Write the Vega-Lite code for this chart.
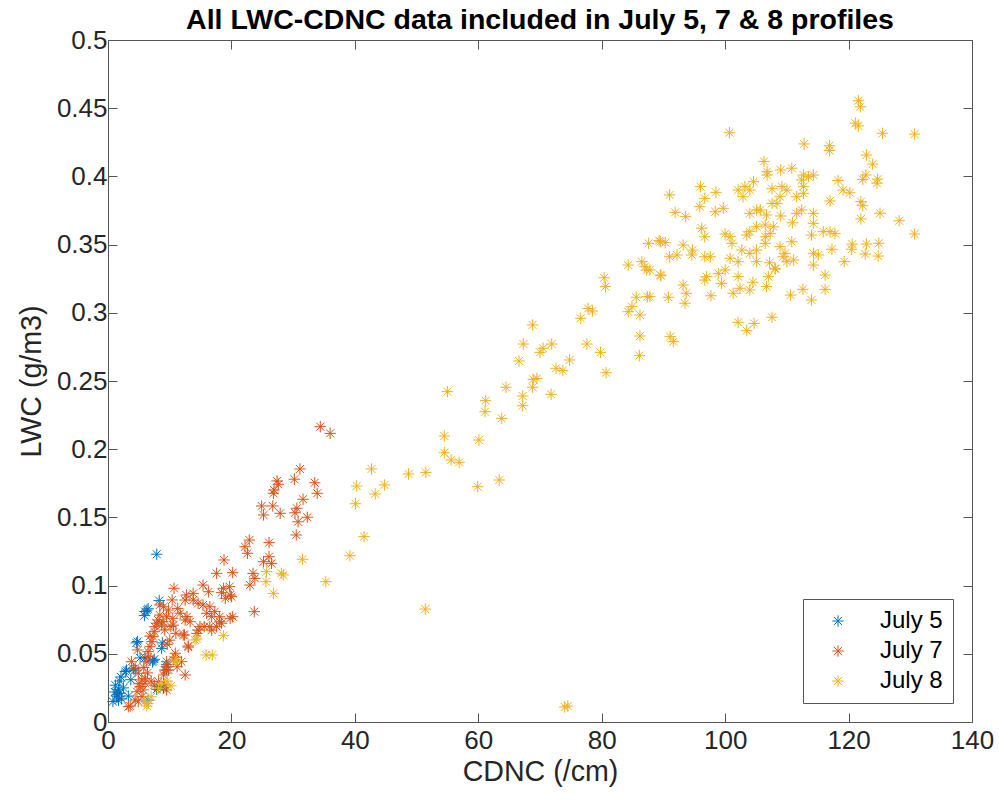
{
  "$schema": "https://vega.github.io/schema/vega-lite/v6.json",
  "autosize": {"type": "none"},
  "padding": {"left": 108, "top": 40, "right": 27, "bottom": 81},
  "width": 864,
  "height": 682,
  "background": "white",
  "title": {"text": "All LWC-CDNC data included in July 5, 7 & 8 profiles", "font": "Liberation Sans", "fontSize": 28.5, "fontWeight": "bold", "color": "black", "anchor": "middle", "offset": -7},
  "config": {
    "view": {"stroke": null},
    "font": "Liberation Sans",
    "axis": {"grid": false, "labelFlush": false, "domainColor": "#555555", "tickColor": "#555555", "tickSize": -9, "labelFont": "Liberation Sans", "labelFontSize": 26, "labelColor": "#262626", "titleFont": "Liberation Sans", "titleFontSize": 28.6, "titleFontWeight": "normal", "titleColor": "#262626"}
  },
  "datasets": {
    "pts": [
      {"date": "July 5", "CDNC": 7.9, "LWC": 0.123},
      {"date": "July 5", "CDNC": 8.3, "LWC": 0.089},
      {"date": "July 5", "CDNC": 6.0, "LWC": 0.081},
      {"date": "July 5", "CDNC": 5.9, "LWC": 0.078},
      {"date": "July 5", "CDNC": 6.5, "LWC": 0.083},
      {"date": "July 5", "CDNC": 6.3, "LWC": 0.082},
      {"date": "July 5", "CDNC": 8.8, "LWC": 0.058},
      {"date": "July 5", "CDNC": 8.7, "LWC": 0.054},
      {"date": "July 5", "CDNC": 4.8, "LWC": 0.059},
      {"date": "July 5", "CDNC": 7.5, "LWC": 0.046},
      {"date": "July 5", "CDNC": 6.0, "LWC": 0.047},
      {"date": "July 5", "CDNC": 9.5, "LWC": 0.042},
      {"date": "July 5", "CDNC": 9.5, "LWC": 0.038},
      {"date": "July 5", "CDNC": 3.0, "LWC": 0.038},
      {"date": "July 5", "CDNC": 4.4, "LWC": 0.038},
      {"date": "July 5", "CDNC": 2.1, "LWC": 0.033},
      {"date": "July 5", "CDNC": 1.9, "LWC": 0.030},
      {"date": "July 5", "CDNC": 1.7, "LWC": 0.024},
      {"date": "July 5", "CDNC": 1.9, "LWC": 0.021},
      {"date": "July 5", "CDNC": 1.4, "LWC": 0.019},
      {"date": "July 5", "CDNC": 1.1, "LWC": 0.022},
      {"date": "July 5", "CDNC": 2.2, "LWC": 0.017},
      {"date": "July 5", "CDNC": 3.3, "LWC": 0.019},
      {"date": "July 5", "CDNC": 1.7, "LWC": 0.016},
      {"date": "July 5", "CDNC": 8.2, "LWC": 0.026},
      {"date": "July 5", "CDNC": 9.0, "LWC": 0.025},
      {"date": "July 5", "CDNC": 7.9, "LWC": 0.024},
      {"date": "July 5", "CDNC": 6.5, "LWC": 0.016},
      {"date": "July 5", "CDNC": 1.5, "LWC": 0.020},
      {"date": "July 5", "CDNC": 2.8, "LWC": 0.037},
      {"date": "July 5", "CDNC": 4.1, "LWC": 0.039},
      {"date": "July 5", "CDNC": 4.6, "LWC": 0.058},
      {"date": "July 5", "CDNC": 7.3, "LWC": 0.045},
      {"date": "July 5", "CDNC": 1.2, "LWC": 0.027},
      {"date": "July 5", "CDNC": 2.5, "LWC": 0.025},
      {"date": "July 5", "CDNC": 0.8, "LWC": 0.015},
      {"date": "July 5", "CDNC": 3.7, "LWC": 0.031},
      {"date": "July 5", "CDNC": 5.2, "LWC": 0.047},
      {"date": "July 5", "CDNC": 7.2, "LWC": 0.044},
      {"date": "July 7", "CDNC": 34.4, "LWC": 0.2165},
      {"date": "July 7", "CDNC": 36.0, "LWC": 0.2116},
      {"date": "July 7", "CDNC": 31.1, "LWC": 0.1855},
      {"date": "July 7", "CDNC": 30.2, "LWC": 0.178},
      {"date": "July 7", "CDNC": 27.4, "LWC": 0.1767},
      {"date": "July 7", "CDNC": 27.6, "LWC": 0.1743},
      {"date": "July 7", "CDNC": 26.9, "LWC": 0.1701},
      {"date": "July 7", "CDNC": 26.8, "LWC": 0.1677},
      {"date": "July 7", "CDNC": 33.5, "LWC": 0.1754},
      {"date": "July 7", "CDNC": 33.9, "LWC": 0.1677},
      {"date": "July 7", "CDNC": 31.6, "LWC": 0.1633},
      {"date": "July 7", "CDNC": 24.9, "LWC": 0.1584},
      {"date": "July 7", "CDNC": 26.7, "LWC": 0.1584},
      {"date": "July 7", "CDNC": 25.2, "LWC": 0.1518},
      {"date": "July 7", "CDNC": 27.9, "LWC": 0.153},
      {"date": "July 7", "CDNC": 30.6, "LWC": 0.1567},
      {"date": "July 7", "CDNC": 30.3, "LWC": 0.1534},
      {"date": "July 7", "CDNC": 30.8, "LWC": 0.1468},
      {"date": "July 7", "CDNC": 32.3, "LWC": 0.1501},
      {"date": "July 7", "CDNC": 30.5, "LWC": 0.1371},
      {"date": "July 7", "CDNC": 22.9, "LWC": 0.1334},
      {"date": "July 7", "CDNC": 22.2, "LWC": 0.1285},
      {"date": "July 7", "CDNC": 22.6, "LWC": 0.1237},
      {"date": "July 7", "CDNC": 26.1, "LWC": 0.1315},
      {"date": "July 7", "CDNC": 26.1, "LWC": 0.1212},
      {"date": "July 7", "CDNC": 25.2, "LWC": 0.1175},
      {"date": "July 7", "CDNC": 26.5, "LWC": 0.1163},
      {"date": "July 7", "CDNC": 23.5, "LWC": 0.109},
      {"date": "July 7", "CDNC": 23.8, "LWC": 0.1053},
      {"date": "July 7", "CDNC": 23.0, "LWC": 0.1004},
      {"date": "July 7", "CDNC": 18.8, "LWC": 0.1188},
      {"date": "July 7", "CDNC": 17.6, "LWC": 0.109},
      {"date": "July 7", "CDNC": 20.2, "LWC": 0.1095},
      {"date": "July 7", "CDNC": 15.4, "LWC": 0.1004},
      {"date": "July 7", "CDNC": 16.3, "LWC": 0.0955},
      {"date": "July 7", "CDNC": 13.8, "LWC": 0.0943},
      {"date": "July 7", "CDNC": 18.7, "LWC": 0.098},
      {"date": "July 7", "CDNC": 19.7, "LWC": 0.0992},
      {"date": "July 7", "CDNC": 18.4, "LWC": 0.0948},
      {"date": "July 7", "CDNC": 19.8, "LWC": 0.0931},
      {"date": "July 7", "CDNC": 19.0, "LWC": 0.0907},
      {"date": "July 7", "CDNC": 20.0, "LWC": 0.0919},
      {"date": "July 7", "CDNC": 10.7, "LWC": 0.098},
      {"date": "July 7", "CDNC": 13.8, "LWC": 0.0894},
      {"date": "July 7", "CDNC": 14.6, "LWC": 0.087},
      {"date": "July 7", "CDNC": 15.4, "LWC": 0.0858},
      {"date": "July 7", "CDNC": 16.5, "LWC": 0.0845},
      {"date": "July 7", "CDNC": 16.0, "LWC": 0.0797},
      {"date": "July 7", "CDNC": 16.8, "LWC": 0.0772},
      {"date": "July 7", "CDNC": 17.3, "LWC": 0.0809},
      {"date": "July 7", "CDNC": 12.8, "LWC": 0.0772},
      {"date": "July 7", "CDNC": 12.5, "LWC": 0.0748},
      {"date": "July 7", "CDNC": 13.3, "LWC": 0.0735},
      {"date": "July 7", "CDNC": 14.9, "LWC": 0.0699},
      {"date": "July 7", "CDNC": 15.6, "LWC": 0.0699},
      {"date": "July 7", "CDNC": 14.6, "LWC": 0.0674},
      {"date": "July 7", "CDNC": 16.8, "LWC": 0.0674},
      {"date": "July 7", "CDNC": 17.6, "LWC": 0.0699},
      {"date": "July 7", "CDNC": 18.4, "LWC": 0.0724},
      {"date": "July 7", "CDNC": 18.1, "LWC": 0.0772},
      {"date": "July 7", "CDNC": 19.8, "LWC": 0.076},
      {"date": "July 7", "CDNC": 20.2, "LWC": 0.0772},
      {"date": "July 7", "CDNC": 23.7, "LWC": 0.0809},
      {"date": "July 7", "CDNC": 12.2, "LWC": 0.0638},
      {"date": "July 7", "CDNC": 14.4, "LWC": 0.065},
      {"date": "July 7", "CDNC": 13.0, "LWC": 0.0557},
      {"date": "July 7", "CDNC": 12.7, "LWC": 0.0931},
      {"date": "July 7", "CDNC": 12.5, "LWC": 0.0894},
      {"date": "July 7", "CDNC": 11.7, "LWC": 0.0797},
      {"date": "July 7", "CDNC": 18.1, "LWC": 0.0735},
      {"date": "July 7", "CDNC": 16.5, "LWC": 0.0699},
      {"date": "July 7", "CDNC": 8.4, "LWC": 0.0784},
      {"date": "July 7", "CDNC": 8.1, "LWC": 0.0748},
      {"date": "July 7", "CDNC": 7.9, "LWC": 0.0724},
      {"date": "July 7", "CDNC": 7.6, "LWC": 0.0699},
      {"date": "July 7", "CDNC": 7.5, "LWC": 0.0662},
      {"date": "July 7", "CDNC": 7.3, "LWC": 0.0626},
      {"date": "July 7", "CDNC": 7.1, "LWC": 0.0589},
      {"date": "July 7", "CDNC": 6.8, "LWC": 0.0552},
      {"date": "July 7", "CDNC": 6.5, "LWC": 0.0516},
      {"date": "July 7", "CDNC": 6.5, "LWC": 0.0479},
      {"date": "July 7", "CDNC": 6.3, "LWC": 0.0442},
      {"date": "July 7", "CDNC": 9.8, "LWC": 0.0821},
      {"date": "July 7", "CDNC": 9.5, "LWC": 0.0772},
      {"date": "July 7", "CDNC": 8.9, "LWC": 0.0735},
      {"date": "July 7", "CDNC": 8.7, "LWC": 0.0711},
      {"date": "July 7", "CDNC": 9.2, "LWC": 0.0675},
      {"date": "July 7", "CDNC": 8.4, "LWC": 0.0858},
      {"date": "July 7", "CDNC": 9.0, "LWC": 0.0845},
      {"date": "July 7", "CDNC": 4.8, "LWC": 0.0528},
      {"date": "July 7", "CDNC": 3.8, "LWC": 0.0442},
      {"date": "July 7", "CDNC": 4.4, "LWC": 0.0394},
      {"date": "July 7", "CDNC": 4.9, "LWC": 0.0357},
      {"date": "July 7", "CDNC": 5.5, "LWC": 0.0308},
      {"date": "July 7", "CDNC": 6.0, "LWC": 0.032},
      {"date": "July 7", "CDNC": 5.2, "LWC": 0.0259},
      {"date": "July 7", "CDNC": 5.7, "LWC": 0.0235},
      {"date": "July 7", "CDNC": 4.7, "LWC": 0.0222},
      {"date": "July 7", "CDNC": 5.5, "LWC": 0.0186},
      {"date": "July 7", "CDNC": 4.4, "LWC": 0.0161},
      {"date": "July 7", "CDNC": 4.9, "LWC": 0.0149},
      {"date": "July 7", "CDNC": 6.0, "LWC": 0.0284},
      {"date": "July 7", "CDNC": 3.3, "LWC": 0.0112},
      {"date": "July 7", "CDNC": 10.9, "LWC": 0.0504},
      {"date": "July 7", "CDNC": 10.6, "LWC": 0.0455},
      {"date": "July 7", "CDNC": 11.9, "LWC": 0.0442},
      {"date": "July 7", "CDNC": 9.5, "LWC": 0.0442},
      {"date": "July 7", "CDNC": 9.2, "LWC": 0.0381},
      {"date": "July 7", "CDNC": 9.0, "LWC": 0.0345},
      {"date": "July 7", "CDNC": 12.5, "LWC": 0.0345},
      {"date": "July 7", "CDNC": 8.2, "LWC": 0.0296},
      {"date": "July 7", "CDNC": 9.2, "LWC": 0.0271},
      {"date": "July 7", "CDNC": 9.5, "LWC": 0.0235},
      {"date": "July 7", "CDNC": 13.0, "LWC": 0.0549},
      {"date": "July 7", "CDNC": 10.9, "LWC": 0.0474},
      {"date": "July 7", "CDNC": 11.2, "LWC": 0.0405},
      {"date": "July 7", "CDNC": 9.5, "LWC": 0.0405},
      {"date": "July 7", "CDNC": 9.8, "LWC": 0.0381},
      {"date": "July 7", "CDNC": 3.6, "LWC": 0.0117},
      {"date": "July 7", "CDNC": 12.4, "LWC": 0.0638},
      {"date": "July 7", "CDNC": 11.3, "LWC": 0.0833},
      {"date": "July 7", "CDNC": 10.5, "LWC": 0.076},
      {"date": "July 7", "CDNC": 10.2, "LWC": 0.07},
      {"date": "July 7", "CDNC": 11.0, "LWC": 0.065},
      {"date": "July 7", "CDNC": 10.0, "LWC": 0.06},
      {"date": "July 7", "CDNC": 9.6, "LWC": 0.057},
      {"date": "July 7", "CDNC": 10.4, "LWC": 0.0895},
      {"date": "July 7", "CDNC": 5.8, "LWC": 0.04},
      {"date": "July 7", "CDNC": 6.4, "LWC": 0.036},
      {"date": "July 7", "CDNC": 7.0, "LWC": 0.03},
      {"date": "July 7", "CDNC": 7.5, "LWC": 0.027},
      {"date": "July 7", "CDNC": 5.0, "LWC": 0.028},
      {"date": "July 7", "CDNC": 6.8, "LWC": 0.063},
      {"date": "July 7", "CDNC": 10.6, "LWC": 0.071},
      {"date": "July 8", "CDNC": 121.6, "LWC": 0.4555},
      {"date": "July 8", "CDNC": 121.9, "LWC": 0.451},
      {"date": "July 8", "CDNC": 100.7, "LWC": 0.432},
      {"date": "July 8", "CDNC": 121.1, "LWC": 0.439},
      {"date": "July 8", "CDNC": 121.6, "LWC": 0.437},
      {"date": "July 8", "CDNC": 125.5, "LWC": 0.4316},
      {"date": "July 8", "CDNC": 130.7, "LWC": 0.431},
      {"date": "July 8", "CDNC": 112.8, "LWC": 0.4238},
      {"date": "July 8", "CDNC": 116.9, "LWC": 0.4225},
      {"date": "July 8", "CDNC": 116.9, "LWC": 0.419},
      {"date": "July 8", "CDNC": 122.9, "LWC": 0.4157},
      {"date": "July 8", "CDNC": 123.9, "LWC": 0.409},
      {"date": "July 8", "CDNC": 106.3, "LWC": 0.411},
      {"date": "July 8", "CDNC": 106.8, "LWC": 0.4035},
      {"date": "July 8", "CDNC": 106.8, "LWC": 0.401},
      {"date": "July 8", "CDNC": 109.0, "LWC": 0.4047},
      {"date": "July 8", "CDNC": 110.8, "LWC": 0.406},
      {"date": "July 8", "CDNC": 112.7, "LWC": 0.401},
      {"date": "July 8", "CDNC": 113.5, "LWC": 0.3998},
      {"date": "July 8", "CDNC": 114.3, "LWC": 0.401},
      {"date": "July 8", "CDNC": 118.3, "LWC": 0.397},
      {"date": "July 8", "CDNC": 122.3, "LWC": 0.3978},
      {"date": "July 8", "CDNC": 124.7, "LWC": 0.398},
      {"date": "July 8", "CDNC": 124.6, "LWC": 0.395},
      {"date": "July 8", "CDNC": 122.8, "LWC": 0.401},
      {"date": "July 8", "CDNC": 119.1, "LWC": 0.39},
      {"date": "July 8", "CDNC": 120.2, "LWC": 0.388},
      {"date": "July 8", "CDNC": 117.0, "LWC": 0.382},
      {"date": "July 8", "CDNC": 122.0, "LWC": 0.3815},
      {"date": "July 8", "CDNC": 122.3, "LWC": 0.3785},
      {"date": "July 8", "CDNC": 125.1, "LWC": 0.373},
      {"date": "July 8", "CDNC": 128.2, "LWC": 0.3675},
      {"date": "July 8", "CDNC": 122.0, "LWC": 0.3688},
      {"date": "July 8", "CDNC": 130.7, "LWC": 0.3578},
      {"date": "July 8", "CDNC": 120.6, "LWC": 0.3504},
      {"date": "July 8", "CDNC": 122.9, "LWC": 0.3504},
      {"date": "July 8", "CDNC": 124.9, "LWC": 0.351},
      {"date": "July 8", "CDNC": 120.5, "LWC": 0.3466},
      {"date": "July 8", "CDNC": 122.7, "LWC": 0.3431},
      {"date": "July 8", "CDNC": 124.8, "LWC": 0.3416},
      {"date": "July 8", "CDNC": 119.3, "LWC": 0.3375},
      {"date": "July 8", "CDNC": 117.3, "LWC": 0.3466},
      {"date": "July 8", "CDNC": 116.2, "LWC": 0.3277},
      {"date": "July 8", "CDNC": 116.2, "LWC": 0.3172},
      {"date": "July 8", "CDNC": 114.0, "LWC": 0.3094},
      {"date": "July 8", "CDNC": 112.6, "LWC": 0.3172},
      {"date": "July 8", "CDNC": 110.6, "LWC": 0.313},
      {"date": "July 8", "CDNC": 107.6, "LWC": 0.2967},
      {"date": "July 8", "CDNC": 102.1, "LWC": 0.293},
      {"date": "July 8", "CDNC": 104.7, "LWC": 0.2922},
      {"date": "July 8", "CDNC": 103.5, "LWC": 0.2869},
      {"date": "July 8", "CDNC": 91.1, "LWC": 0.2825},
      {"date": "July 8", "CDNC": 91.6, "LWC": 0.2788},
      {"date": "July 8", "CDNC": 90.8, "LWC": 0.3114},
      {"date": "July 8", "CDNC": 93.2, "LWC": 0.3204},
      {"date": "July 8", "CDNC": 93.7, "LWC": 0.3143},
      {"date": "July 8", "CDNC": 93.5, "LWC": 0.307},
      {"date": "July 8", "CDNC": 97.7, "LWC": 0.3125},
      {"date": "July 8", "CDNC": 101.3, "LWC": 0.3143},
      {"date": "July 8", "CDNC": 102.4, "LWC": 0.318},
      {"date": "July 8", "CDNC": 104.0, "LWC": 0.3167},
      {"date": "July 8", "CDNC": 106.7, "LWC": 0.3192},
      {"date": "July 8", "CDNC": 107.0, "LWC": 0.3265},
      {"date": "July 8", "CDNC": 108.1, "LWC": 0.3326},
      {"date": "July 8", "CDNC": 96.7, "LWC": 0.324},
      {"date": "July 8", "CDNC": 97.0, "LWC": 0.3265},
      {"date": "July 8", "CDNC": 99.4, "LWC": 0.3216},
      {"date": "July 8", "CDNC": 98.9, "LWC": 0.3289},
      {"date": "July 8", "CDNC": 100.0, "LWC": 0.3314},
      {"date": "July 8", "CDNC": 102.1, "LWC": 0.3265},
      {"date": "July 8", "CDNC": 104.5, "LWC": 0.3224},
      {"date": "July 8", "CDNC": 89.5, "LWC": 0.3277},
      {"date": "July 8", "CDNC": 87.8, "LWC": 0.3314},
      {"date": "July 8", "CDNC": 87.8, "LWC": 0.3118},
      {"date": "July 8", "CDNC": 91.0, "LWC": 0.3411},
      {"date": "July 8", "CDNC": 92.2, "LWC": 0.3424},
      {"date": "July 8", "CDNC": 94.6, "LWC": 0.3424},
      {"date": "July 8", "CDNC": 96.7, "LWC": 0.3411},
      {"date": "July 8", "CDNC": 97.6, "LWC": 0.3411},
      {"date": "July 8", "CDNC": 89.5, "LWC": 0.3521},
      {"date": "July 8", "CDNC": 90.3, "LWC": 0.3514},
      {"date": "July 8", "CDNC": 93.2, "LWC": 0.3497},
      {"date": "July 8", "CDNC": 94.7, "LWC": 0.346},
      {"date": "July 8", "CDNC": 87.6, "LWC": 0.3509},
      {"date": "July 8", "CDNC": 100.8, "LWC": 0.34},
      {"date": "July 8", "CDNC": 102.1, "LWC": 0.3375},
      {"date": "July 8", "CDNC": 105.1, "LWC": 0.3375},
      {"date": "July 8", "CDNC": 107.2, "LWC": 0.3367},
      {"date": "July 8", "CDNC": 108.1, "LWC": 0.332},
      {"date": "July 8", "CDNC": 100.8, "LWC": 0.3558},
      {"date": "July 8", "CDNC": 101.1, "LWC": 0.3509},
      {"date": "July 8", "CDNC": 102.7, "LWC": 0.346},
      {"date": "July 8", "CDNC": 104.0, "LWC": 0.3436},
      {"date": "July 8", "CDNC": 105.1, "LWC": 0.346},
      {"date": "July 8", "CDNC": 100.0, "LWC": 0.3578},
      {"date": "July 8", "CDNC": 103.5, "LWC": 0.357},
      {"date": "July 8", "CDNC": 104.0, "LWC": 0.3595},
      {"date": "July 8", "CDNC": 106.5, "LWC": 0.3558},
      {"date": "July 8", "CDNC": 106.5, "LWC": 0.3509},
      {"date": "July 8", "CDNC": 96.2, "LWC": 0.362},
      {"date": "July 8", "CDNC": 96.7, "LWC": 0.3558},
      {"date": "July 8", "CDNC": 105.1, "LWC": 0.3631},
      {"date": "July 8", "CDNC": 106.5, "LWC": 0.3644},
      {"date": "July 8", "CDNC": 107.8, "LWC": 0.3631},
      {"date": "July 8", "CDNC": 107.3, "LWC": 0.358},
      {"date": "July 8", "CDNC": 108.9, "LWC": 0.3485},
      {"date": "July 8", "CDNC": 109.4, "LWC": 0.3411},
      {"date": "July 8", "CDNC": 110.0, "LWC": 0.3375},
      {"date": "July 8", "CDNC": 111.1, "LWC": 0.3387},
      {"date": "July 8", "CDNC": 109.7, "LWC": 0.3436},
      {"date": "July 8", "CDNC": 110.8, "LWC": 0.3521},
      {"date": "July 8", "CDNC": 114.3, "LWC": 0.3436},
      {"date": "July 8", "CDNC": 115.1, "LWC": 0.3424},
      {"date": "July 8", "CDNC": 114.3, "LWC": 0.335},
      {"date": "July 8", "CDNC": 115.9, "LWC": 0.3595},
      {"date": "July 8", "CDNC": 117.0, "LWC": 0.3595},
      {"date": "July 8", "CDNC": 117.8, "LWC": 0.358},
      {"date": "July 8", "CDNC": 114.3, "LWC": 0.3729},
      {"date": "July 8", "CDNC": 114.3, "LWC": 0.3656},
      {"date": "July 8", "CDNC": 114.0, "LWC": 0.357},
      {"date": "July 8", "CDNC": 112.4, "LWC": 0.3754},
      {"date": "July 8", "CDNC": 111.6, "LWC": 0.3729},
      {"date": "July 8", "CDNC": 110.9, "LWC": 0.366},
      {"date": "July 8", "CDNC": 105.1, "LWC": 0.3754},
      {"date": "July 8", "CDNC": 104.0, "LWC": 0.3729},
      {"date": "July 8", "CDNC": 105.7, "LWC": 0.3754},
      {"date": "July 8", "CDNC": 106.7, "LWC": 0.3717},
      {"date": "July 8", "CDNC": 107.6, "LWC": 0.3802},
      {"date": "July 8", "CDNC": 108.4, "LWC": 0.3802},
      {"date": "July 8", "CDNC": 109.0, "LWC": 0.371},
      {"date": "July 8", "CDNC": 102.1, "LWC": 0.39},
      {"date": "July 8", "CDNC": 102.9, "LWC": 0.3851},
      {"date": "July 8", "CDNC": 103.2, "LWC": 0.3925},
      {"date": "July 8", "CDNC": 104.0, "LWC": 0.39},
      {"date": "July 8", "CDNC": 104.6, "LWC": 0.3961},
      {"date": "July 8", "CDNC": 107.6, "LWC": 0.391},
      {"date": "July 8", "CDNC": 109.2, "LWC": 0.3925},
      {"date": "July 8", "CDNC": 110.0, "LWC": 0.39},
      {"date": "July 8", "CDNC": 108.9, "LWC": 0.3851},
      {"date": "July 8", "CDNC": 111.6, "LWC": 0.3851},
      {"date": "July 8", "CDNC": 112.7, "LWC": 0.3876},
      {"date": "July 8", "CDNC": 112.4, "LWC": 0.3974},
      {"date": "July 8", "CDNC": 112.7, "LWC": 0.3925},
      {"date": "July 8", "CDNC": 96.0, "LWC": 0.3925},
      {"date": "July 8", "CDNC": 98.5, "LWC": 0.3883},
      {"date": "July 8", "CDNC": 96.7, "LWC": 0.3839},
      {"date": "July 8", "CDNC": 95.9, "LWC": 0.3778},
      {"date": "July 8", "CDNC": 98.4, "LWC": 0.3741},
      {"date": "July 8", "CDNC": 99.7, "LWC": 0.3766},
      {"date": "July 8", "CDNC": 91.0, "LWC": 0.3864},
      {"date": "July 8", "CDNC": 91.9, "LWC": 0.3736},
      {"date": "July 8", "CDNC": 93.6, "LWC": 0.3705},
      {"date": "July 8", "CDNC": 89.3, "LWC": 0.3529},
      {"date": "July 8", "CDNC": 84.3, "LWC": 0.335},
      {"date": "July 8", "CDNC": 86.5, "LWC": 0.3375},
      {"date": "July 8", "CDNC": 87.0, "LWC": 0.3338},
      {"date": "July 8", "CDNC": 87.3, "LWC": 0.3314},
      {"date": "July 8", "CDNC": 89.6, "LWC": 0.3272},
      {"date": "July 8", "CDNC": 85.6, "LWC": 0.3114},
      {"date": "July 8", "CDNC": 84.9, "LWC": 0.3045},
      {"date": "July 8", "CDNC": 84.3, "LWC": 0.3008},
      {"date": "July 8", "CDNC": 86.2, "LWC": 0.2984},
      {"date": "July 8", "CDNC": 87.4, "LWC": 0.3118},
      {"date": "July 8", "CDNC": 86.2, "LWC": 0.283},
      {"date": "July 8", "CDNC": 86.1, "LWC": 0.2686},
      {"date": "July 8", "CDNC": 80.4, "LWC": 0.3257},
      {"date": "July 8", "CDNC": 80.6, "LWC": 0.3192},
      {"date": "July 8", "CDNC": 77.8, "LWC": 0.3032},
      {"date": "July 8", "CDNC": 78.5, "LWC": 0.3013},
      {"date": "July 8", "CDNC": 76.6, "LWC": 0.296},
      {"date": "July 8", "CDNC": 68.8, "LWC": 0.2911},
      {"date": "July 8", "CDNC": 67.3, "LWC": 0.2771},
      {"date": "July 8", "CDNC": 70.5, "LWC": 0.274},
      {"date": "July 8", "CDNC": 71.9, "LWC": 0.2771},
      {"date": "July 8", "CDNC": 70.0, "LWC": 0.271},
      {"date": "July 8", "CDNC": 66.6, "LWC": 0.2647},
      {"date": "July 8", "CDNC": 74.8, "LWC": 0.2654},
      {"date": "July 8", "CDNC": 77.6, "LWC": 0.2771},
      {"date": "July 8", "CDNC": 79.8, "LWC": 0.271},
      {"date": "July 8", "CDNC": 80.7, "LWC": 0.2561},
      {"date": "July 8", "CDNC": 72.6, "LWC": 0.2593},
      {"date": "July 8", "CDNC": 73.7, "LWC": 0.2576},
      {"date": "July 8", "CDNC": 68.9, "LWC": 0.2512},
      {"date": "July 8", "CDNC": 69.5, "LWC": 0.2519},
      {"date": "July 8", "CDNC": 68.8, "LWC": 0.2454},
      {"date": "July 8", "CDNC": 64.5, "LWC": 0.2454},
      {"date": "July 8", "CDNC": 61.2, "LWC": 0.2356},
      {"date": "July 8", "CDNC": 61.1, "LWC": 0.2275},
      {"date": "July 8", "CDNC": 67.2, "LWC": 0.239},
      {"date": "July 8", "CDNC": 67.2, "LWC": 0.2319},
      {"date": "July 8", "CDNC": 71.8, "LWC": 0.2402},
      {"date": "July 8", "CDNC": 63.8, "LWC": 0.2226},
      {"date": "July 8", "CDNC": 55.0, "LWC": 0.2422},
      {"date": "July 8", "CDNC": 54.5, "LWC": 0.2097},
      {"date": "July 8", "CDNC": 54.5, "LWC": 0.1974},
      {"date": "July 8", "CDNC": 55.6, "LWC": 0.1921},
      {"date": "July 8", "CDNC": 56.9, "LWC": 0.1904},
      {"date": "July 8", "CDNC": 60.1, "LWC": 0.2067},
      {"date": "July 8", "CDNC": 48.7, "LWC": 0.1818},
      {"date": "July 8", "CDNC": 51.5, "LWC": 0.183},
      {"date": "July 8", "CDNC": 44.8, "LWC": 0.1738},
      {"date": "July 8", "CDNC": 59.9, "LWC": 0.1725},
      {"date": "July 8", "CDNC": 63.4, "LWC": 0.1774},
      {"date": "July 8", "CDNC": 42.7, "LWC": 0.1855},
      {"date": "July 8", "CDNC": 40.3, "LWC": 0.173},
      {"date": "July 8", "CDNC": 40.1, "LWC": 0.16},
      {"date": "July 8", "CDNC": 41.5, "LWC": 0.1359},
      {"date": "July 8", "CDNC": 39.2, "LWC": 0.1219},
      {"date": "July 8", "CDNC": 35.3, "LWC": 0.1029},
      {"date": "July 8", "CDNC": 31.5, "LWC": 0.1193},
      {"date": "July 8", "CDNC": 28.1, "LWC": 0.109},
      {"date": "July 8", "CDNC": 28.4, "LWC": 0.1078},
      {"date": "July 8", "CDNC": 25.7, "LWC": 0.1102},
      {"date": "July 8", "CDNC": 25.6, "LWC": 0.1029},
      {"date": "July 8", "CDNC": 26.8, "LWC": 0.0943},
      {"date": "July 8", "CDNC": 43.3, "LWC": 0.1672},
      {"date": "July 8", "CDNC": 51.4, "LWC": 0.0828},
      {"date": "July 8", "CDNC": 74.5, "LWC": 0.0117},
      {"date": "July 8", "CDNC": 74.0, "LWC": 0.011},
      {"date": "July 8", "CDNC": 18.7, "LWC": 0.0633},
      {"date": "July 8", "CDNC": 14.4, "LWC": 0.0608},
      {"date": "July 8", "CDNC": 15.9, "LWC": 0.0491},
      {"date": "July 8", "CDNC": 16.9, "LWC": 0.0491},
      {"date": "July 8", "CDNC": 10.9, "LWC": 0.0442},
      {"date": "July 8", "CDNC": 10.2, "LWC": 0.0264},
      {"date": "July 8", "CDNC": 8.2, "LWC": 0.0247},
      {"date": "July 8", "CDNC": 8.6, "LWC": 0.0279},
      {"date": "July 8", "CDNC": 6.5, "LWC": 0.0137},
      {"date": "July 8", "CDNC": 6.3, "LWC": 0.0117},
      {"date": "July 8", "CDNC": 7.0, "LWC": 0.0185},
      {"date": "July 8", "CDNC": 14.1, "LWC": 0.0601},
      {"date": "July 8", "CDNC": 11.1, "LWC": 0.0455},
      {"date": "July 8", "CDNC": 9.6, "LWC": 0.03},
      {"date": "July 8", "CDNC": 5.9, "LWC": 0.015}
    ]
  },
  "data": {"name": "pts"},
  "layer": [
    {
      "mark": {"type": "point", "shape": "M0,-1L0,1M-1,0L1,0M-0.7,-0.7L0.7,0.7M-0.7,0.7L0.7,-0.7", "filled": false, "size": 130, "strokeWidth": 1, "opacity": 1},
      "encoding": {
        "x": {"field": "CDNC", "type": "quantitative", "scale": {"domain": [0, 140], "nice": false, "zero": false},
              "axis": {"orient": "bottom", "values": [0, 20, 40, 60, 80, 100, 120, 140], "title": "CDNC (/cm)", "labelPadding": 14, "titlePadding": 4}},
        "y": {"field": "LWC", "type": "quantitative", "scale": {"domain": [0, 0.5], "nice": false, "zero": false},
              "axis": {"orient": "left", "values": [0, 0.05, 0.1, 0.15, 0.2, 0.25, 0.3, 0.35, 0.4, 0.45, 0.5], "format": "~g", "title": "LWC (g/m3)", "labelPadding": 10, "titlePadding": 10}},
        "color": {"field": "date", "type": "nominal",
                  "scale": {"domain": ["July 5", "July 7", "July 8"], "range": ["#0072BD", "#D95319", "#EDB120"]},
                  "legend": {"title": null, "orient": "bottom-right", "offset": 19, "strokeColor": "#555555", "fillColor": "white", "padding": 10,
                             "labelFont": "Liberation Sans", "labelFontSize": 24, "labelColor": "black", "labelOffset": 30,
                             "symbolType": "M0,-1L0,1M-1,0L1,0M-0.7,-0.7L0.7,0.7M-0.7,0.7L0.7,-0.7", "symbolSize": 130, "symbolStrokeWidth": 1, "symbolOffset": 13, "rowPadding": 6}}
      }
    },
    {
      "mark": {"type": "point", "opacity": 0},
      "encoding": {
        "x": {"field": "CDNC", "type": "quantitative", "axis": {"orient": "top", "values": [0, 20, 40, 60, 80, 100, 120, 140], "labels": false, "title": null}},
        "y": {"field": "LWC", "type": "quantitative", "axis": {"orient": "right", "values": [0, 0.05, 0.1, 0.15, 0.2, 0.25, 0.3, 0.35, 0.4, 0.45, 0.5], "labels": false, "title": null}}
      }
    }
  ],
  "resolve": {"axis": {"x": "independent", "y": "independent"}}
}
